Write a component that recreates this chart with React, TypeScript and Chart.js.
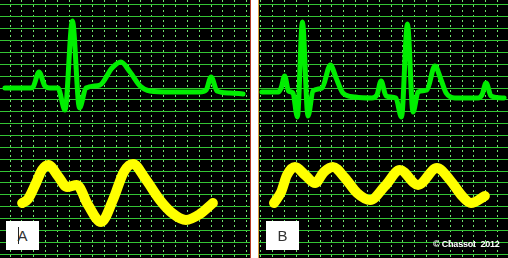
import React, { useEffect, useRef } from "react";
import { Chart, registerables } from "chart.js";

Chart.register(...registerables);

// Panel A – ECG (time in ms, amplitude in mV)
const ecgA_t = [-17, 68, 78, 98, 118, 135, 162, 186, 211, 235, 257, 304, 345, 375, 406, 440, 473, 541, 642, 663, 680, 700, 744, 788];
const ecgA_mv = [0, 0, 0.009, 0.135, 0.017, 0, 0, -0.185, 0.565, -0.168, 0, 0.025, 0.169, 0.219, 0.135, 0.017, -0.025, -0.034, -0.034, -0.017, 0.093, -0.025, -0.042, -0.05];

// Panel A – arterial pressure (time in ms, mmHg)
const bpA_t = [41, 61, 88, 108, 130, 162, 193, 226, 264, 308, 348, 385, 416, 456, 507, 548, 595, 642, 686];
const bpA_mmHg = [96, 99.4, 112.9, 123.8, 128.1, 118.8, 109.5, 111.2, 94.3, 80, 98.5, 122.2, 128.9, 117.1, 98.5, 87.6, 81.7, 86.7, 96];

// Panel B – ECG
const ecgB_t = [3, 58, 68, 80, 93, 108, 123, 140, 159, 176, 206, 235, 254, 277, 318, 375, 392, 406, 423, 456, 475, 495, 514, 531, 561, 588, 609, 626, 656, 734, 747, 761, 778, 822];
const ecgB_mv = [-0.034, -0.034, 0, 0.101, -0.025, -0.042, -0.244, 0.557, -0.236, -0.025, 0, 0.194, 0.084, -0.042, -0.076, -0.084, -0.059, 0.059, -0.067, -0.084, -0.244, 0.54, -0.202, -0.034, -0.017, 0.186, 0.068, -0.042, -0.084, -0.084, -0.059, 0.042, -0.067, -0.084];

// Panel B – arterial pressure
const bpB_t = [44, 68, 88, 115, 149, 183, 213, 243, 284, 325, 369, 419, 470, 531, 595, 639, 680, 710, 757];
const bpB_mmHg = [96, 105.3, 119.6, 126.4, 119.6, 112.9, 122.2, 126.4, 117.1, 104.4, 98.5, 110.3, 123.8, 111.2, 125.5, 115.4, 101.9, 96, 101.9];

// Paper grid: one small box = 40 ms horizontally
const GRID_MS = Array.from({ length: 21 }, (_, i) => i * 40);
const GRID_ROWS = Array.from({ length: 22 }, (_, i) => i);

const MS_PER_PX = 40 / 11.83;
const HEIGHT = 258;
const PX_PER_ROW = 11.862;
const ROW_MAX = 21.42;
const ECG_ZERO_ROW = 14.0; // row at 0 mV
const MV_PER_ROW = 0.1;
const BP_REF_ROW = ROW_MAX - 222 / PX_PER_ROW; // row at 80 mmHg
const MMHG_PER_ROW = 10;

const rowMin = ROW_MAX - HEIGHT / PX_PER_ROW;

const GRID_LINE = "rgb(52,196,52)";
const GRID_DASH = "rgb(110,224,110)";
const ECG_COLOR = "rgb(0,238,0)";
const BP_COLOR = "rgb(255,255,0)";

function pts(t: number[], v: number[]) {
  return t.map((x, i) => ({ x, y: v[i] }));
}

type PanelProps = {
  left: number;
  width: number;
  firstLine: number;
  ecgT: number[];
  ecgV: number[];
  bpT: number[];
  bpV: number[];
};

function Panel({ left, width, firstLine, ecgT, ecgV, bpT, bpV }: PanelProps) {
  const ref = useRef<HTMLCanvasElement | null>(null);

  useEffect(() => {
    if (!ref.current) return;
    const chart = new Chart(ref.current, {
      type: "line",
      data: {
        datasets: [
          {
            data: pts(bpT, bpV),
            yAxisID: "bp",
            borderColor: BP_COLOR,
            borderWidth: 10,
            pointRadius: 0,
            cubicInterpolationMode: "monotone",
            borderCapStyle: "round",
            borderJoinStyle: "round",
            fill: false,
          },
          {
            data: pts(ecgT, ecgV),
            yAxisID: "ecg",
            borderColor: ECG_COLOR,
            borderWidth: 5,
            pointRadius: 0,
            cubicInterpolationMode: "monotone",
            borderCapStyle: "round",
            borderJoinStyle: "round",
            fill: false,
          },
        ],
      },
      options: {
        animation: false,
        responsive: false,
        maintainAspectRatio: false,
        events: [],
        layout: { padding: 0 },
        plugins: { legend: { display: false }, tooltip: { enabled: false } },
        scales: {
          x: {
            type: "linear",
            min: -firstLine * MS_PER_PX,
            max: (width - firstLine) * MS_PER_PX,
            ticks: { display: false },
            afterBuildTicks: (s: any) => {
              s.ticks = GRID_MS.map((value) => ({ value }));
            },
            grid: { color: GRID_DASH, lineWidth: 1, drawTicks: false },
            border: { display: false, dash: [2, 3] },
          },
          y: {
            type: "linear",
            min: rowMin,
            max: ROW_MAX,
            ticks: { display: false },
            afterBuildTicks: (s: any) => {
              s.ticks = GRID_ROWS.map((value) => ({ value }));
            },
            grid: { color: GRID_LINE, lineWidth: 1, drawTicks: false },
            border: { display: false },
          },
          ecg: {
            type: "linear",
            display: false,
            min: (rowMin - ECG_ZERO_ROW) * MV_PER_ROW,
            max: (ROW_MAX - ECG_ZERO_ROW) * MV_PER_ROW,
          },
          bp: {
            type: "linear",
            display: false,
            min: 80 + (rowMin - BP_REF_ROW) * MMHG_PER_ROW,
            max: 80 + (ROW_MAX - BP_REF_ROW) * MMHG_PER_ROW,
          },
        },
      } as any,
    });
    return () => chart.destroy();
  }, []);

  return (
    <canvas
      ref={ref}
      width={width}
      height={HEIGHT}
      style={{ position: "absolute", left, top: 0, width, height: HEIGHT, display: "block" }}
    />
  );
}

const labelBox: React.CSSProperties = {
  position: "absolute",
  top: 221,
  width: 33,
  height: 29,
  background: "#fff",
  color: "#333",
  font: "15px 'Liberation Sans', Arial, sans-serif",
  display: "flex",
  alignItems: "center",
  justifyContent: "center",
};

export default function App() {
  return (
    <div
      style={{
        position: "absolute",
        left: 0,
        top: 0,
        width: 508,
        height: HEIGHT,
        background: "#000",
        overflow: "hidden",
      }}
    >
      <Panel left={0} width={250} firstLine={10} ecgT={ecgA_t} ecgV={ecgA_mv} bpT={bpA_t} bpV={bpA_mmHg} />
      <Panel left={259} width={249} firstLine={2} ecgT={ecgB_t} ecgV={ecgB_mv} bpT={bpB_t} bpV={bpB_mmHg} />
      <div
        style={{
          position: "absolute",
          left: 250,
          top: 0,
          width: 7,
          height: HEIGHT,
          background: "#fff",
          borderLeft: "1px solid #b83a22",
          borderRight: "1px solid #e0a040",
        }}
      />
      <div style={{ ...labelBox, left: 6 }}>A</div>
      <div style={{ position: "absolute", left: 18, top: 227, width: 1, height: 17, background: "#222" }} />
      <div style={{ ...labelBox, left: 266 }}>B</div>
      <div
        style={{
          position: "absolute",
          left: 433,
          top: 239,
          color: "#fff",
          font: "bold 9px 'Liberation Sans', Arial, sans-serif",
          whiteSpace: "pre",
          letterSpacing: -0.2,
        }}
      >
        {"© Chassot  2012"}
      </div>
    </div>
  );
}
